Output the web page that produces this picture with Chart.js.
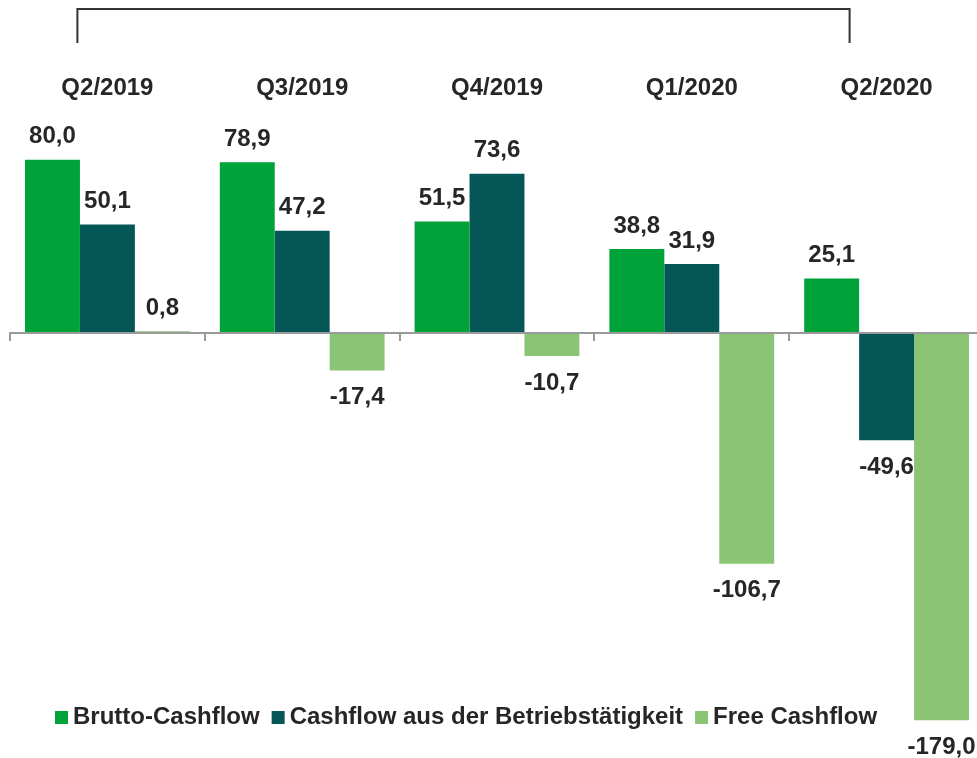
<!DOCTYPE html>
<html>
<head>
<meta charset="utf-8">
<script src="https://cdn.jsdelivr.net/npm/chart.js@4"></script>
<style>
  html, body { margin: 0; padding: 0; background: #fff; overflow: hidden; }
  canvas { display: block; }
</style>
</head>
<body>
<canvas id="cashflow-chart" width="990" height="758"></canvas>
<script>
// quarters and cashflow values (Mio. EUR)
const quarters = ['Q2/2019', 'Q3/2019', 'Q4/2019', 'Q1/2020', 'Q2/2020'];
const bruttoCashflow = [80.0, 78.9, 51.5, 38.8, 25.1];
const operatingCashflow = [50.1, 47.2, 73.6, 31.9, -49.6];
const freeCashflow = [0.8, -17.4, -10.7, -106.7, -179.0];

const seriesLabels = ['Brutto-Cashflow', 'Cashflow aus der Betriebstätigkeit', 'Free Cashflow'];
const seriesColors = ['#00A23A', '#055657', '#8BC474'];

const TEXT_COLOR = '#262626';
const FONT = 'bold 24px "Liberation Sans", Arial, sans-serif';

const formatValue = v => v.toFixed(1).replace('.', ',');

// value labels above / below every bar
const valueLabels = {
    id: 'valueLabels',
    afterDatasetsDraw(chart) {
        const ctx = chart.ctx;
        ctx.save();
        ctx.font = FONT;
        ctx.fillStyle = TEXT_COLOR;
        ctx.textAlign = 'center';
        ctx.textBaseline = 'middle';
        chart.data.datasets.forEach((ds, i) => {
            chart.getDatasetMeta(i).data.forEach((bar, j) => {
                const v = ds.data[j];
                const y = v >= 0 ? bar.y - 23 : bar.y + 27;
                ctx.fillText(formatValue(v), bar.x, y);
            });
        });
        ctx.restore();
    }
};

// bracket over the quarter labels
const bracket = {
    id: 'bracket',
    afterDraw(chart) {
        const sc = chart.scales.xTop;
        const x1 = sc.getPixelForValue(0) - 30;
        const x2 = sc.getPixelForValue(quarters.length - 1) - 37;
        const ctx = chart.ctx;
        ctx.save();
        ctx.strokeStyle = '#333';
        ctx.lineWidth = 2;
        ctx.beginPath();
        ctx.moveTo(x1, 43);
        ctx.lineTo(x1, 9);
        ctx.lineTo(x2, 9);
        ctx.lineTo(x2, 43);
        ctx.stroke();
        ctx.restore();
    }
};

// legend at the bottom
const bottomLegend = {
    id: 'bottomLegend',
    afterDraw(chart) {
        const ctx = chart.ctx;
        const y = 717;
        let x = chart.chartArea.left + 45;
        ctx.save();
        ctx.font = FONT;
        ctx.textBaseline = 'middle';
        ctx.textAlign = 'left';
        chart.data.datasets.forEach(ds => {
            ctx.fillStyle = ds.backgroundColor;
            ctx.fillRect(x, y - 6, 13, 13);
            x += 18;
            ctx.fillStyle = TEXT_COLOR;
            ctx.fillText(ds.label, x, y);
            x += ctx.measureText(ds.label).width + 12;
        });
        ctx.restore();
    }
};

const datasets = [bruttoCashflow, operatingCashflow, freeCashflow].map((data, i) => ({
    label: seriesLabels[i],
    data,
    backgroundColor: seriesColors[i],
    borderWidth: 0,
    xAxisID: 'x',
    yAxisID: 'y',
    categoryPercentage: 0.846,
    barPercentage: 1.0
}));

new Chart(document.getElementById('cashflow-chart').getContext('2d'), {
    type: 'bar',
    data: { labels: quarters, datasets },
    options: {
        responsive: false,
        animation: false,
        layout: { padding: { left: 10, right: 6, top: 0, bottom: 16 } },
        plugins: { legend: { display: false }, tooltip: { enabled: false } },
        scales: {
            x: {
                type: 'category',
                position: { y: 0 },
                offset: true,
                ticks: { display: false },
                grid: { display: true, offset: true, drawOnChartArea: false, drawTicks: true, tickLength: 7, color: '#9a9a9a', lineWidth: 2 },
                border: { display: true, color: '#9a9a9a', width: 2, z: 1 }
            },
            xTop: {
                type: 'category',
                position: 'top',
                offset: true,
                labels: quarters,
                grid: { display: false, drawTicks: false },
                border: { display: false },
                ticks: { color: TEXT_COLOR, font: { family: '"Liberation Sans", Arial, sans-serif', size: 24, weight: 'bold' }, padding: 14, maxRotation: 0 },
                afterFit: scale => { scale.height = 116.5; }
            },
            y: {
                display: false,
                min: -189,
                max: 100
            }
        }
    },
    plugins: [valueLabels, bracket, bottomLegend]
});
</script>
</body>
</html>
